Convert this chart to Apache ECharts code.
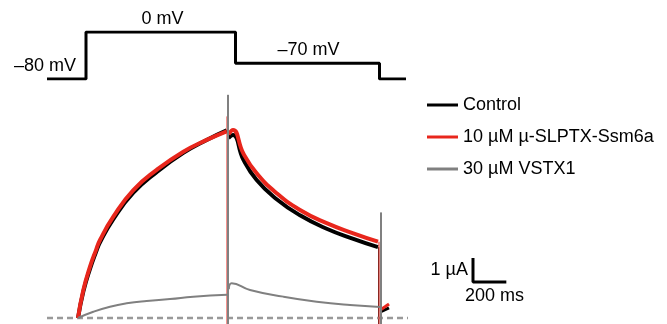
<!DOCTYPE html>
<html><head><meta charset="utf-8">
<script src="https://cdn.jsdelivr.net/npm/echarts@6/dist/echarts.min.js"></script>
<style>html,body{margin:0;padding:0;background:#fff}#c{width:667px;height:324px}</style>
</head><body><div id="c"></div>
<script>
// ---- Voltage protocol (schematic levels) ----
const vLevelNames = ['–80 mV', '–70 mV', ' ', '0 mV'];
const vTimes  = [-186, 48, 945, 1809, 1968];            // ms
const vLevels = ['–80 mV', '0 mV', '–70 mV', '–80 mV', '–80 mV'];

// ---- Currents (µA) vs time (ms) ----
const seriesNames = ['Control', '10 µM µ-SLPTX-Ssm6a', '30 µM VSTX1'];

// depolarising step (0 mV)
const stepTimeA   = [0, 32, 72, 108, 132, 212, 332, 472, 632, 772, 892];
const controlStep = [0, 1.10, 2.05, 2.75, 3.15, 4.12, 5.22, 6.08, 6.88, 7.42, 7.82];
const ssm6aStep   = [0, 1.17, 2.14, 2.83, 3.25, 4.22, 5.33, 6.17, 6.93, 7.42, 7.78];
const stepTimeB   = [0, 92, 192, 292, 412, 552, 692, 895];
const vstx1Step   = [0, 0.26, 0.47, 0.61, 0.71, 0.79, 0.89, 0.97];

// tail at –70 mV
const tailTimeA   = [903, 930, 992, 1072, 1192, 1332, 1492, 1652, 1800];
const controlTail = [7.5, 7.62, 6.6, 5.75, 4.95, 4.28, 3.72, 3.3, 2.95];
const ssm6aTail   = [7.65, 7.83, 6.86, 6.03, 5.2, 4.5, 3.95, 3.53, 3.18];
const tailTimeB   = [905, 922, 1032, 1232, 1432, 1632, 1812];
const vstx1Tail   = [1.2, 1.45, 1.17, 0.89, 0.68, 0.54, 0.46];

// capacitive transients [time, top, bottom]
const controlSpikes = [[897, 8.0, -1], [1804, 2.95, -1]];
const ssm6aSpikes   = [[894, 8.4, -1], [1806, 3.18, -1]];
const vstx1Spikes   = [[900, 9.3, -1], [1818, 4.4, -1]];

// after return to –80 mV
const afterTime    = [1814, 1866];
const controlAfter = [0.25, 0.42];
const ssm6aAfter   = [0.33, 0.58];

// zero-current baseline
const baseTime = [-186, 1980];
const baseVal  = [0, 0];

// scale bar: 200 ms, 1 µA
const scaleT = [2370, 2370, 2570];
const scaleI = [2.5, 1.5, 1.5];

const FONT = '"Liberation Sans", Arial, sans-serif';
const colors = ['#000000', '#e8261c', '#808080'];
const widths = [4, 4, 2];
const spikeWidths = [1, 1, 2];

const zip = (t, v) => t.map((x, i) => [x, v[i]]);

const conds = [
  {step: zip(stepTimeA, controlStep), tail: zip(tailTimeA, controlTail), spikes: controlSpikes, after: zip(afterTime, controlAfter)},
  {step: zip(stepTimeA, ssm6aStep),   tail: zip(tailTimeA, ssm6aTail),   spikes: ssm6aSpikes,   after: zip(afterTime, ssm6aAfter)},
  {step: zip(stepTimeB, vstx1Step),   tail: zip(tailTimeB, vstx1Tail),   spikes: vstx1Spikes,   after: null}
];

const series = [];
series.push({
  type: 'line', xAxisIndex: 1, yAxisIndex: 1, data: zip(baseTime, baseVal),
  showSymbol: false, silent: true,
  lineStyle: {color: '#999999', width: 2.5, type: [6, 4]}
});
series.push({
  type: 'line', xAxisIndex: 0, yAxisIndex: 0, data: zip(vTimes, vLevels), step: 'start',
  showSymbol: false, silent: true,
  lineStyle: {color: '#000', width: 3}
});
conds.forEach((c, k) => {
  const base = {type: 'line', name: seriesNames[k], xAxisIndex: 1, yAxisIndex: 1, showSymbol: false,
    silent: true, color: colors[k], z: 2 + k};
  series.push(Object.assign({}, base, {data: c.step, smooth: 0.5,
    lineStyle: {color: colors[k], width: widths[k]}}));
  series.push(Object.assign({}, base, {data: c.tail, smooth: 0.5,
    lineStyle: {color: colors[k], width: widths[k]}}));
  c.spikes.forEach(s => {
    series.push(Object.assign({}, base, {data: [[s[0], s[1]], [s[0], s[2]]],
      lineStyle: {color: colors[k], width: spikeWidths[k]}}));
  });
  if (c.after) series.push(Object.assign({}, base, {data: c.after,
    lineStyle: {color: colors[k], width: 3}}));
});
series.push({
  type: 'line', xAxisIndex: 1, yAxisIndex: 1, data: zip(scaleT, scaleI),
  showSymbol: false, silent: true, lineStyle: {color: '#000', width: 3}
});

const gridX = {left: 44.67, right: 155.67};
const chart = echarts.init(document.getElementById('c'), null, {renderer: 'canvas'});
chart.setOption({
  animation: false,
  backgroundColor: '#fff',
  grid: [
    Object.assign({top: 32, bottom: 245}, gridX),
    Object.assign({top: 90, bottom: 0}, gridX)
  ],
  xAxis: [
    {type: 'value', gridIndex: 0, min: -200, max: 2600, show: false},
    {type: 'value', gridIndex: 1, min: -200, max: 2600, show: false}
  ],
  yAxis: [
    {type: 'category', gridIndex: 0, data: vLevelNames, boundaryGap: false, show: false},
    {type: 'value', gridIndex: 1, min: -0.25, max: 9.5, show: false}
  ],
  legend: {
    orient: 'vertical', left: 422, top: 90, itemWidth: 31, itemHeight: 3, itemGap: 12,
    icon: 'rect', selectedMode: false,
    data: seriesNames,
    textStyle: {fontSize: 18, lineHeight: 20, color: '#000', fontFamily: FONT}
  },
  graphic: [
    {type: 'text', x: 76, y: 66, style: {text: '–80 mV', font: '18px ' + FONT, fill: '#000', textAlign: 'right', textVerticalAlign: 'middle'}},
    {type: 'text', x: 162.5, y: 19.5, style: {text: '0 mV', font: '18px ' + FONT, fill: '#000', textAlign: 'center', textVerticalAlign: 'middle'}},
    {type: 'text', x: 308.5, y: 50, style: {text: '–70 mV', font: '18px ' + FONT, fill: '#000', textAlign: 'center', textVerticalAlign: 'middle'}},
    {type: 'text', x: 468, y: 270.5, style: {text: '1 µA', font: '18px ' + FONT, fill: '#000', textAlign: 'right', textVerticalAlign: 'middle'}},
    {type: 'text', x: 465, y: 296.5, style: {text: '200 ms', font: '18px ' + FONT, fill: '#000', textAlign: 'left', textVerticalAlign: 'middle'}}
  ],
  series: series
});
</script>
</body></html>
